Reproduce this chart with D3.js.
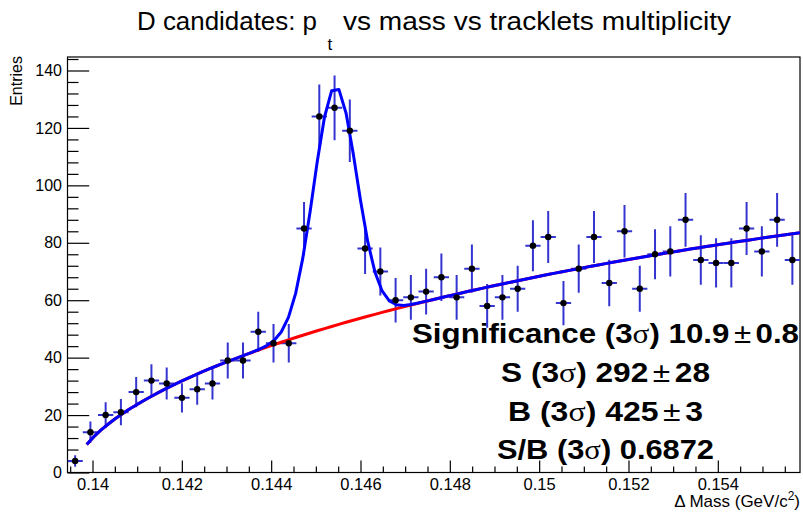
<!DOCTYPE html>
<html>
<head>
<meta charset="utf-8">
<script src="https://cdn.jsdelivr.net/npm/d3@7"></script>
<style>
  html, body { margin: 0; padding: 0; background: #fff; }
  svg { display: block; font-family: "Liberation Sans", Arial, Helvetica, sans-serif; }
</style>
</head>
<body>
<svg id="chart" width="803" height="515"></svg>
<script>
// Histogram binning (Δ mass, GeV/c²)
const binLow = 0.13944;
const binHigh = 0.15584;
const nBins = 48;

// Entries per bin
const counts = [4, 14, 20, 21, 28, 32, 31, 26, 29, 31, 39, 39, 49, 45, 45, 85,
                124, 127, 119, 78, 70, 60, 61, 63, 68, 61, 71, 58, 61, 64, 79, 82,
                59, 71, 82, 66, 84, 64, 76, 77, 88, 74, 73, 73, 85, 77, 88, 74];

// Axis ticks
const yTicks = [0, 20, 40, 60, 80, 100, 120, 140];
const xTicks = [0.14, 0.142, 0.144, 0.146, 0.148, 0.15, 0.152, 0.154];
const yMax = 144.7;

// Fit: background = a * (x - mPi)^p * exp(c * (x - mPi)), signal = Gaussian
const bkgParams = [1039, 0.575, -9.39];   // a, p, c
const mPi = 0.13957;
const gausParams = [0.14543, 0.00048];    // mean, sigma
const fitRange = [0.13987, 0.15584];
const fitPoints = 100;

// Fit results
const significance = [10.9, 0.8];
const signal = [292, 28];
const background = [425, 3];
const sOverB = 0.6872;

const svg = d3.select("#chart");
const L = 67.5, R = 800, T = 57, B = 472.5;

const x = d3.scaleLinear().domain([binLow, binHigh]).range([L, R]);
const y = d3.scaleLinear().domain([0, yMax]).range([B, T]);

const binW = (binHigh - binLow) / nBins;
const bins = counts.map((n, i) => ({
  lo: binLow + i * binW,
  hi: binLow + (i + 1) * binW,
  c: binLow + (i + 0.5) * binW,
  n: n,
  e: Math.sqrt(n)
}));

// Gaussian amplitude (entries per bin) from the signal yield in ±3σ
const gAmp = signal[0] / 0.9973 * binW / (gausParams[1] * Math.sqrt(2 * Math.PI));
const bkgFn = m => {
  const d = m - mPi;
  return d > 0 ? bkgParams[0] * Math.pow(d, bkgParams[1]) * Math.exp(bkgParams[2] * d) : 0;
};
const totFn = m => bkgFn(m) + gAmp * Math.exp(-0.5 * Math.pow((m - gausParams[0]) / gausParams[1], 2));

const clipId = "plotClip";
svg.append("clipPath").attr("id", clipId)
  .append("rect").attr("x", L).attr("y", T).attr("width", R - L).attr("height", B - T);

// Frame
svg.append("rect").attr("x", L).attr("y", T).attr("width", R - L).attr("height", B - T)
  .attr("fill", "none").attr("stroke", "#000").attr("stroke-width", 1.2);

// Y axis (ticks pointing into the pad)
const yMinor = d3.range(0, yMax, 4).filter(v => v % 20 !== 0);
svg.append("g").attr("transform", `translate(${L},0)`)
  .call(d3.axisLeft(y).tickValues(yMinor).tickSizeInner(-11).tickSizeOuter(0).tickFormat(""))
  .call(g => g.select(".domain").remove());
const gy = svg.append("g").attr("transform", `translate(${L},0)`)
  .call(d3.axisLeft(y).tickValues(yTicks).tickSizeInner(-21.7).tickSizeOuter(0).tickPadding(5.5))
  .call(g => g.select(".domain").remove());
gy.selectAll("text").attr("font-size", 16).attr("fill", "#000").attr("font-family", null);
svg.selectAll(".tick line").attr("stroke", "#000").attr("stroke-width", 1.2);

// X axis (ticks pointing up)
const xMinor = d3.range(0, 33).map(i => 0.1395 + i * 0.0005)
  .filter(v => v < binHigh && !xTicks.some(t => Math.abs(t - v) < 1e-7));
svg.append("g").attr("transform", `translate(0,${B})`)
  .call(d3.axisBottom(x).tickValues(xMinor).tickSizeInner(-6).tickSizeOuter(0).tickFormat(""))
  .call(g => g.select(".domain").remove())
  .selectAll("line").attr("stroke", "#000").attr("stroke-width", 1.2);
const gx = svg.append("g").attr("transform", `translate(0,${B})`)
  .call(d3.axisBottom(x).tickValues(xTicks).tickSizeInner(-12).tickSizeOuter(0).tickPadding(6)
    .tickFormat(d => String(+d.toFixed(3))))
  .call(g => g.select(".domain").remove());
gx.selectAll("line").attr("stroke", "#000").attr("stroke-width", 1.2);
gx.selectAll("text").attr("font-size", 16.5).attr("fill", "#000").attr("font-family", null);

// Axis titles
svg.append("text").attr("transform", "translate(22,56) rotate(-90)")
  .attr("text-anchor", "end").attr("font-size", 16).text("Entries");
const xt = svg.append("text").attr("x", R).attr("y", 507).attr("text-anchor", "end").attr("font-size", 17);
xt.append("tspan").text("\u0394 Mass (GeV/c");
xt.append("tspan").attr("font-size", 12).attr("dy", -7).text("2");
xt.append("tspan").attr("dy", 7).text(")");

// Title: "D candidates: p_t vs mass vs tracklets multiplicity"
svg.append("text").attr("x", 137).attr("y", 30).attr("font-size", 25.5)
  .attr("textLength", 180).attr("lengthAdjust", "spacingAndGlyphs").text("D candidates: p");
svg.append("text").attr("x", 327.5).attr("y", 50).attr("font-size", 17).text("t");
svg.append("text").attr("x", 343).attr("y", 30).attr("font-size", 25.5)
  .attr("textLength", 388).attr("lengthAdjust", "spacingAndGlyphs").text("vs mass vs tracklets multiplicity");

const plot = svg.append("g").attr("clip-path", `url(#${clipId})`);

// Error bars
const eb = plot.append("g").attr("stroke", "#3434d0").attr("stroke-width", 2);
eb.selectAll("line.h").data(bins).join("line").attr("class", "h")
  .attr("x1", d => x(d.lo)).attr("x2", d => x(d.hi))
  .attr("y1", d => y(d.n)).attr("y2", d => y(d.n));
eb.selectAll("line.v").data(bins).join("line").attr("class", "v")
  .attr("x1", d => x(d.c)).attr("x2", d => x(d.c))
  .attr("y1", d => y(d.n - d.e)).attr("y2", d => y(d.n + d.e));

// Fit curves
const xs = d3.range(fitPoints).map(i => fitRange[0] + i * (fitRange[1] - fitRange[0]) / (fitPoints - 1));
const line = d3.line().x(d => x(d[0])).y(d => y(d[1]));
plot.append("path").datum(xs.map(m => [m, bkgFn(m)]))
  .attr("d", line).attr("fill", "none").attr("stroke", "#ff0000").attr("stroke-width", 3);
plot.append("path").datum(xs.map(m => [m, totFn(m)]))
  .attr("d", line).attr("fill", "none").attr("stroke", "#0000ff").attr("stroke-width", 3)
  .attr("stroke-linejoin", "round");

// Markers
plot.append("g").selectAll("circle").data(bins).join("circle")
  .attr("cx", d => x(d.c)).attr("cy", d => y(d.n)).attr("r", 3.2).attr("fill", "#000");

// Fit summary
const info = [
  { label: "Significance", val: `${significance[0]}`, err: `${significance[1]}`, w: 387 },
  { label: "S", val: `${signal[0]}`, err: `${signal[1]}`, w: 209 },
  { label: "B", val: `${background[0]}`, err: `${background[1]}`, w: 195 },
  { label: "S/B", val: `${sOverB}`, err: null, w: 217 }
];
const baselines = [343, 382, 420.5, 459];
info.forEach((r, i) => {
  const t = svg.append("text").attr("x", 605.5).attr("y", baselines[i])
    .attr("text-anchor", "middle").attr("font-size", 28).attr("font-weight", "bold").attr("fill", "#000")
    .attr("textLength", r.w).attr("lengthAdjust", "spacingAndGlyphs");
  t.append("tspan").text(`${r.label} (3`);
  t.append("tspan").attr("font-weight", "normal").attr("font-family", "'Liberation Serif', serif").text("\u03c3");
  t.append("tspan").text(`) ${r.val}`);
  if (r.err !== null) {
    t.append("tspan").attr("font-weight", "normal").attr("dx", 4).text("\u00b1");
    t.append("tspan").attr("dx", 4).text(r.err);
  }
});
</script>
</body>
</html>
